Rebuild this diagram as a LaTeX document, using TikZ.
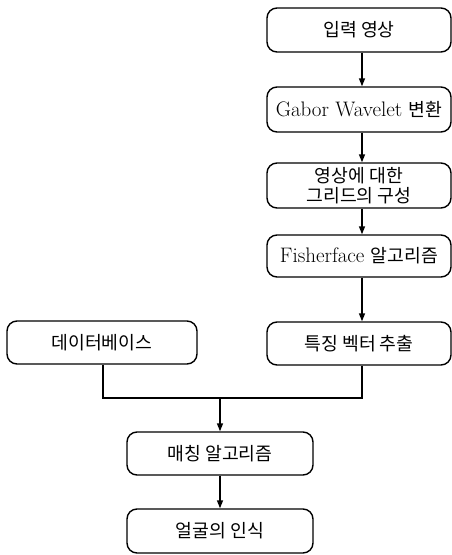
\documentclass[tikz,border=0pt]{standalone}
\usepackage{fontspec}
\newfontfamily\kr[Scale=0.87]{Noto Sans CJK KR}
\usetikzlibrary{arrows.meta}
\tikzset{
  box/.style={draw, line width=1.4pt, rounded corners=10pt, inner sep=0pt,
    align=center, font=\fontsize{21}{24}\selectfont},
  conn/.style={line width=1.4pt},
  arr/.style={conn, -{Triangle[width=6pt,length=8pt]}}
}
\begin{document}
\begin{tikzpicture}[x=1pt,y=-1pt]
\useasboundingbox (0,0) rectangle (452,555);
\node[box, minimum width=184pt, minimum height=44pt] (in) at (359,30) {\kr 입력 영상};
\node[box, minimum width=184pt, minimum height=45pt] (gab) at (359,109.5) {Gabor Wavelet {\kr 변환}};
\node[box, minimum width=184pt, minimum height=45pt, font=\fontsize{21}{21}\selectfont] (grid) at (359,185.5) {\kr 영상에 대한\\[-1pt]\kr 그리드의 구성};
\node[box, minimum width=184pt, minimum height=42pt] (fish) at (359,256) {Fisherface {\kr 알고리즘}};
\node[box, minimum width=184pt, minimum height=43pt] (feat) at (359,343.5) {\kr 특징 벡터 추출};
\node[box, minimum width=190pt, minimum height=43pt] (db) at (102,342.5) {\kr 데이터베이스};
\node[box, minimum width=186pt, minimum height=43pt] (match) at (220,453.5) {\kr 매칭 알고리즘};
\node[box, minimum width=186pt, minimum height=44pt] (face) at (220,531) {\kr 얼굴의 인식};
\coordinate (j) at (220,398);
\draw[arr] (in.south -| 362,0) -- (gab.north -| 362,0);
\draw[arr] (gab.south -| 362,0) -- (grid.north -| 362,0);
\draw[arr] (grid.south -| 362,0) -- (fish.north -| 362,0);
\draw[arr] (fish.south -| 362,0) -- (feat.north -| 362,0);
\draw[conn] (feat.south -| 362,0) |- (j);
\draw[conn] (db.south -| 103,0) |- (j);
\draw[arr] (j) -- (match.north);
\draw[arr] (match) -- (face);
\end{tikzpicture}
\end{document}
